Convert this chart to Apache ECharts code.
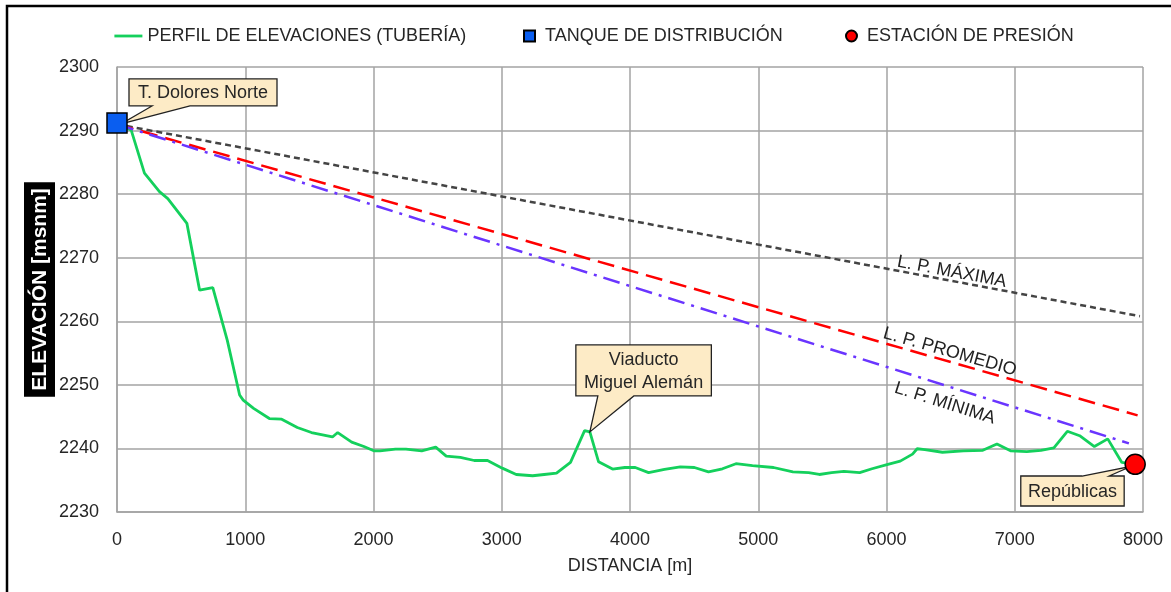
<!DOCTYPE html>
<html><head><meta charset="utf-8">
<script src="https://cdn.jsdelivr.net/npm/echarts@6/dist/echarts.min.js"></script>
<style>html,body{margin:0;padding:0;background:#fff}#c{width:1171px;height:592px}</style>
</head><body><div id="c"></div>
<script>
// ---- data ----
const distance = [0,110,214,331,396,545,644,747,860,956,984,1065,1188,1284,1406,1516,1680,1721,1830,1925,2007,2050,2171,2253,2376,2485,2567,2677,2786,2889,3004,3113,3241,3331,3427,3536,3646,3687,3755,3864,3960,4041,4145,4269,4392,4502,4612,4721,4826,4955,5119,5270,5393,5476,5572,5668,5791,5887,6011,6107,6203,6239,6299,6436,6600,6751,6861,6971,7094,7204,7305,7410,7506,7621,7725,7835,7939];
const elevation = [2291.0,2290.1,2283.3,2280.4,2279.3,2275.4,2264.9,2265.3,2257.0,2248.4,2247.6,2246.3,2244.7,2244.6,2243.3,2242.5,2241.8,2242.5,2241.0,2240.3,2239.6,2239.6,2239.9,2239.9,2239.6,2240.2,2238.8,2238.6,2238.1,2238.1,2236.9,2235.9,2235.7,2235.9,2236.1,2237.8,2242.8,2242.6,2237.9,2236.75,2237.0,2237.0,2236.2,2236.7,2237.1,2237.0,2236.3,2236.8,2237.6,2237.3,2237.0,2236.3,2236.2,2235.9,2236.2,2236.4,2236.2,2236.8,2237.5,2238.0,2239.1,2239.95,2239.8,2239.4,2239.6,2239.7,2240.7,2239.6,2239.5,2239.7,2240.1,2242.7,2242.0,2240.3,2241.5,2237.8,2237.5];
const tank = [0, 2291.2];
const station = [7939, 2237.5];
const viaducto = [3687, 2242.6];
const lpStart = [0, 2291];
const lpMaxEnd = [7976, 2260.8];
const lpAvgEnd = [7958, 2245.2];
const lpMinEnd = [7890, 2240.8];
const xMin = 0, xMax = 8000, xStep = 1000;
const yMin = 2230, yMax = 2300, yStep = 10;
const names = {
  perfil: 'PERFIL DE ELEVACIONES (TUBERÍA)',
  tanque: 'TANQUE DE DISTRIBUCIÓN',
  estacion: 'ESTACIÓN DE PRESIÓN',
  max: 'L. P. MÁXIMA', avg: 'L. P. PROMEDIO', min: 'L. P. MÍNIMA',
  xName: 'DISTANCIA [m]', yName: 'ELEVACIÓN [msnm]',
  dolores: 'T. Dolores Norte', viad: 'Viaducto\nMiguel Alemán', rep: 'Repúblicas'
};
// ---- chart ----
const FONT = "'Liberation Sans', Arial, sans-serif";
const TXT = '#262626';
const GRIDC = '#a3a3a3';
const chart = echarts.init(document.getElementById('c'), null, {renderer: 'canvas'});
const legendText = {fontFamily: FONT, fontSize: 18, color: TXT};
const option = {
  animation: false,
  backgroundColor: '#fff',
  textStyle: {fontFamily: FONT},
  grid: {left: 117, right: 28, top: 67, bottom: 80, containLabel: false, outerBoundsMode: 'none'},
  legend: [
    {data: [names.perfil], left: 108, top: 22, itemWidth: 28, itemHeight: 11, textStyle: legendText, selectedMode: false,
     itemStyle: {opacity: 0}, lineStyle: {width: 2.8}},
    {data: [{name: names.tanque, icon: 'path://M0,0H10V10H0Z'}], left: 518, top: 22, itemWidth: 21, itemHeight: 11,
     symbolKeepAspect: true, textStyle: legendText, selectedMode: false},
    {data: [names.estacion], left: 840, top: 22, itemWidth: 21, itemHeight: 11, textStyle: legendText, selectedMode: false}
  ],
  xAxis: {
    type: 'value', min: xMin, max: xMax, interval: xStep,
    name: names.xName, nameLocation: 'middle', nameGap: 45, nameMoveOverlap: false,
    nameTextStyle: {fontFamily: FONT, fontSize: 18, color: TXT},
    axisLine: {show: true, lineStyle: {color: GRIDC, width: 1.5}},
    axisTick: {show: false},
    axisLabel: {fontFamily: FONT, fontSize: 18, color: TXT, margin: 19, formatter: v => String(v)},
    splitLine: {show: true, lineStyle: {color: GRIDC, width: 1.5}}
  },
  yAxis: {
    type: 'value', min: yMin, max: yMax, interval: yStep,
    name: names.yName, nameLocation: 'middle', nameGap: 62, nameRotate: 90, nameMoveOverlap: false,
    nameTextStyle: {fontFamily: FONT, fontSize: 21, fontWeight: 'bold', color: '#fff', backgroundColor: '#000', padding: [6, 6, 4, 6]},
    axisLine: {show: true, lineStyle: {color: GRIDC, width: 1.5}},
    axisTick: {show: false},
    axisLabel: {fontFamily: FONT, fontSize: 18, color: TXT, margin: 18, formatter: v => String(v)},
    splitLine: {show: true, lineStyle: {color: GRIDC, width: 1.5}}
  },
  series: [
    {name: names.perfil, type: 'line', symbol: 'none', z: 3,
     data: distance.map((d, i) => [d, elevation[i]]),
     lineStyle: {color: '#14d05c', width: 2.8}, itemStyle: {color: '#14d05c'}},
    {name: names.max, type: 'line', symbol: 'none', z: 4, data: [lpStart, lpMaxEnd],
     lineStyle: {color: '#444', width: 2.5, type: [6, 4]}},
    {name: names.avg, type: 'line', symbol: 'none', z: 4, data: [lpStart, lpAvgEnd],
     lineStyle: {color: '#ff0000', width: 2.5, type: [17, 8]}},
    {name: names.min, type: 'line', symbol: 'none', z: 4, data: [lpStart, lpMinEnd],
     lineStyle: {color: '#6a35ff', width: 2.5, type: [17, 7, 3, 7]}},
    {name: names.tanque, type: 'scatter', symbol: 'rect', symbolSize: 20, z: 20,
     data: [tank], itemStyle: {color: '#0a5ef0', borderColor: '#000', borderWidth: 1.5, opacity: 1}},
    {name: names.estacion, type: 'scatter', symbol: 'circle', symbolSize: 20, z: 20,
     data: [station], itemStyle: {color: '#ff0000', borderColor: '#000', borderWidth: 1.5, opacity: 1}}
  ]
};
chart.setOption(option);

// ---- annotations (positioned from data through the chart scales) ----
const P = v => chart.convertToPixel({gridIndex: 0}, v);
const FILL = '#fdebc6';
const graphics = [];
function calloutPoly(points, z) {
  graphics.push({type: 'polygon', z: z, shape: {points: points},
    style: {fill: FILL, stroke: '#222', lineWidth: 1.3}});
}
function calloutText(x, y, text, z) {
  graphics.push({type: 'text', z: z + 1, x: x, y: y,
    style: {text: text, fill: TXT, font: "18px 'Liberation Sans', Arial, sans-serif", align: 'center', verticalAlign: 'middle', lineHeight: 23}});
}
// T. Dolores Norte
(function(){
  const a = P(tank);
  const L = a[0] + 12, T = a[1] - 44, R = L + 148, B = T + 27;
  calloutPoly([[L,T],[R,T],[R,B],[a[0]+73,B],[a[0]+4,a[1]+1],[a[0]+35,B],[L,B]], 15);
  calloutText((L+R)/2, (T+B)/2 + 1, names.dolores, 15);
})();
// Viaducto
(function(){
  const a = P(viaducto);
  const L = a[0] - 14, T = a[1] - 87, R = L + 135.5, B = T + 51;
  calloutPoly([[L,T],[R,T],[R,B],[a[0]+44,B],[a[0],a[1]],[a[0]+8,B],[L,B]], 15);
  calloutText((L+R)/2, (T+B)/2 + 1, names.viad, 15);
})();
// Repúblicas
(function(){
  const a = P(station);
  const L = a[0] - 114.4, T = a[1] + 11.7, R = L + 103.4, B = T + 30;
  calloutPoly([[L,T],[a[0]-53,T],[a[0]-4,a[1]+2],[a[0]-26,T],[R,T],[R,B],[L,B]], 15);
  calloutText((L+R)/2, (T+B)/2 + 1, names.rep, 15);
})();
// line labels along the pressure lines
function lineLabel(endPt, xd, dy, text) {
  const p0 = P(lpStart), p1 = P(endPt);
  const t = (xd - lpStart[0]) / (endPt[0] - lpStart[0]);
  const yd = lpStart[1] + t * (endPt[1] - lpStart[1]);
  const p = P([xd, yd]);
  const ang = Math.atan2(-(p1[1] - p0[1]), p1[0] - p0[0]);
  graphics.push({type: 'text', z: 12, x: p[0], y: p[1] + dy, rotation: ang,
    style: {text: text, fill: '#222', font: "18px 'Liberation Sans', Arial, sans-serif", align: 'center', verticalAlign: 'middle'}});
}
lineLabel(lpMaxEnd, 6509, -9, names.max);
lineLabel(lpAvgEnd, 6494, -10, names.avg);
lineLabel(lpMinEnd, 6455, 18, names.min);
// outer frame
graphics.push({type: 'rect', z: 100, shape: {x: 7, y: 6, width: 1200, height: 700},
  style: {fill: 'none', stroke: '#000', lineWidth: 2.5}});
chart.setOption({graphic: graphics});
</script>
</body></html>
